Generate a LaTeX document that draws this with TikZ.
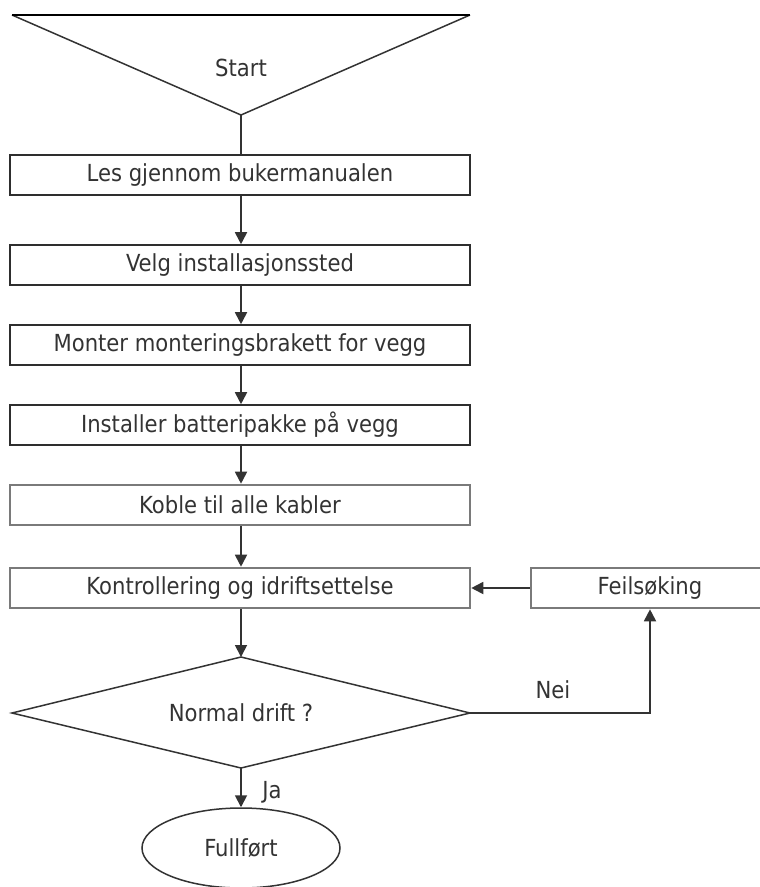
\documentclass[tikz,border=0pt]{standalone}
\usepackage{fontspec}
\setmainfont{DejaVu Sans Condensed}
\usetikzlibrary{shapes.geometric,arrows.meta}
\definecolor{boxline}{HTML}{7A7A7A}
\definecolor{darkline}{HTML}{2E2E2E}
\definecolor{conn}{HTML}{333333}
\definecolor{txt}{HTML}{333333}
\begin{document}
\begin{tikzpicture}[x=1pt,y=-1pt,
  every node/.style={font=\fontsize{23.5}{28}\selectfont, text=txt},
  stepbox/.style={draw=darkline, line width=1.6pt, rectangle, minimum width=460pt, minimum height=40pt, inner sep=0pt},
  graybox/.style={draw=boxline, line width=2.6pt, rectangle, minimum height=40pt, inner sep=0pt},
  flow/.style={draw=conn, line width=1.8pt, -{Triangle[length=12pt,width=12pt]}},
  plain/.style={draw=conn, line width=1.8pt},
  outline/.style={draw=conn, line width=1.5pt}]
\useasboundingbox (0,0) rectangle (760,887);
% start triangle
\coordinate (tl) at (12,15);
\coordinate (tr) at (470,15);
\coordinate (apex) at (241,115);
\draw[outline] (tl) -- (apex) -- (tr);
\draw[black, line width=2.4pt] (tl) -- (tr);
\node (start) at (241,68) {Start};
% boxes
\node[stepbox] (b1) at (240,175) {Les gjennom bukermanualen};
\node[stepbox] (b2) at (240,265) {Velg installasjonssted};
\node[stepbox] (b3) at (240,345) {Monter monteringsbrakett for vegg};
\node[stepbox] (b4) at (240,425) {Installer batteripakke på vegg};
\node[graybox, minimum width=460pt] (b5) at (240,505) {Koble til alle kabler};
\node[graybox, minimum width=460pt] (b6) at (240,588) {Kontrollering og idriftsettelse};
\node[graybox, minimum width=238pt] (fs) at (650,588) {Feilsøking};
% diamond
\coordinate (dt) at (241,657);
\coordinate (dl) at (12,713);
\coordinate (dr) at (470,713);
\coordinate (db) at (241,768);
\draw[outline] (dt) -- (dr) -- (db) -- (dl) -- cycle;
\node (dec) at (241,713) {Normal drift ?};
% end ellipse
\node[outline, ellipse, minimum width=198pt, minimum height=80pt, inner sep=0pt] (end) at (241,848) {Fullført};
% connectors
\draw[plain] (apex) -- (b1.north -| apex);
\draw[flow] (b1.south -| apex) -- (b2.north -| apex);
\draw[flow] (b2.south -| apex) -- (b3.north -| apex);
\draw[flow] (b3.south -| apex) -- (b4.north -| apex);
\draw[flow] (b4.south -| apex) -- (b5.north -| apex);
\draw[flow] (b5.south -| apex) -- (b6.north -| apex);
\draw[flow] (b6.south -| apex) -- (dt);
\draw[flow] (db) -- (end.north);
\draw[flow] (dr) -- (dr -| fs) -- (fs.south);
\draw[flow] (fs.west) -- (b6.east);
\node (nei) at (553,690) {Nei};
\node (ja) at (272,792) {Ja};
\end{tikzpicture}
\end{document}
